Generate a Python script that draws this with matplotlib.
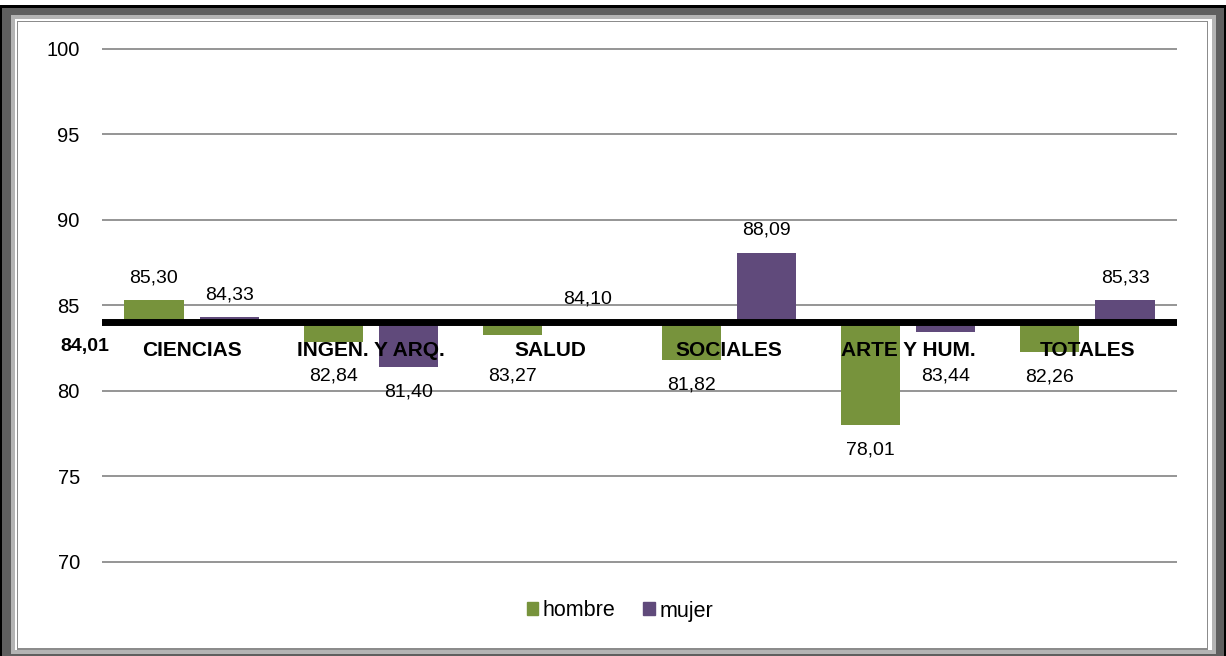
import matplotlib
matplotlib.use("Agg")
import matplotlib.pyplot as plt
from matplotlib.patches import Rectangle, Patch

plt.rcParams['font.family'] = ['Liberation Sans', 'DejaVu Sans']

# data
categorias = ["CIENCIAS", "INGEN. Y ARQ.", "SALUD", "SOCIALES", "ARTE Y HUM.", "TOTALES"]
hombre = [85.30, 82.84, 83.27, 81.82, 78.01, 82.26]
mujer = [84.33, 81.40, 84.10, 88.09, 83.44, 85.33]
promedio = 84.01
yticks = [70, 75, 80, 85, 90, 95, 100]

VERDE = "#77933C"
MORADO = "#604A7B"
W, H = 1226, 656


def fmt(v):
    return f"{v:.2f}".replace(".", ",")


def px_rect(fig, x0, y0, x1, y1, color):
    # rectangle given in pixel coords, origin top-left
    fig.patches.append(Rectangle((x0 / W, 1 - y1 / H), (x1 - x0) / W, (y1 - y0) / H,
                                 transform=fig.transFigure, color=color, lw=0, zorder=-10))


fig = plt.figure(figsize=(W / 100, H / 100), dpi=100)
fig.patch.set_facecolor("white")

# outer frame
px_rect(fig, 0, 5, W, H, "#000000")
px_rect(fig, 2, 8, W - 2, H, "#5f5f5f")
px_rect(fig, 11, 15, 1216, 654, "#b4b4b4")
px_rect(fig, 15, 19, 1212, 650, "#ffffff")
px_rect(fig, 17, 21, 1208, 650, "#8c8c8c")
px_rect(fig, 18, 22, 1207, 648, "#ffffff")

# axes placed so 70..100 maps to pixels 562..49
pad = 0.2
ppu = (562 - 49) / 30.0
top_px = 49 - pad * ppu
bot_px = 562 + pad * ppu
ax = fig.add_axes([102 / W, 1 - bot_px / H, 1075 / W, (bot_px - top_px) / H])
ax.set_facecolor("none")
ax.set_ylim(70 - pad, 100 + pad)
ax.set_xlim(-0.5, len(categorias) - 0.5)
for s in ax.spines.values():
    s.set_visible(False)
ax.set_yticks(yticks)
ax.set_yticklabels([str(t) for t in yticks], fontsize=14.5)
ax.tick_params(axis="y", length=0, pad=16)
ax.set_xticks([])
ax.yaxis.grid(True, color="#8c8c8c", lw=1.3)
ax.set_axisbelow(True)

x = list(range(len(categorias)))
ancho = 0.33
off = 0.21
ax.bar([i - off for i in x], [v - promedio for v in hombre], bottom=promedio,
       width=ancho, color=VERDE, zorder=2)
ax.bar([i + off for i in x], [v - promedio for v in mujer], bottom=promedio,
       width=ancho, color=MORADO, zorder=2)
ax.axhline(promedio, color="black", lw=5, zorder=3)


def etiqueta(xp, v):
    if v >= promedio:
        y = v + 1.3
    else:
        y = min(v - 1.45, 80.9)
    ax.text(xp, y, fmt(v), ha="center", va="center", fontsize=14, zorder=4)


for i in x:
    etiqueta(i - off, hombre[i])
    etiqueta(i + off, mujer[i])
    ax.text(i, promedio - 1.65, categorias[i], ha="center", va="center",
            fontsize=15, fontweight="bold", zorder=5)

ax.text(-0.595, promedio - 1.4, fmt(promedio), ha="center", va="center",
        fontsize=14, fontweight="bold")

handles = [Patch(color=VERDE), Patch(color=MORADO)]
fig.legend(handles, ["hombre", "mujer"], loc="center",
           bbox_to_anchor=(620 / W, 1 - 611 / H), ncol=2, frameon=False,
           handlelength=0.55, handleheight=0.55, handletextpad=0.2,
           columnspacing=1.3, fontsize=15.5)

fig.savefig("out.png", dpi=100)
